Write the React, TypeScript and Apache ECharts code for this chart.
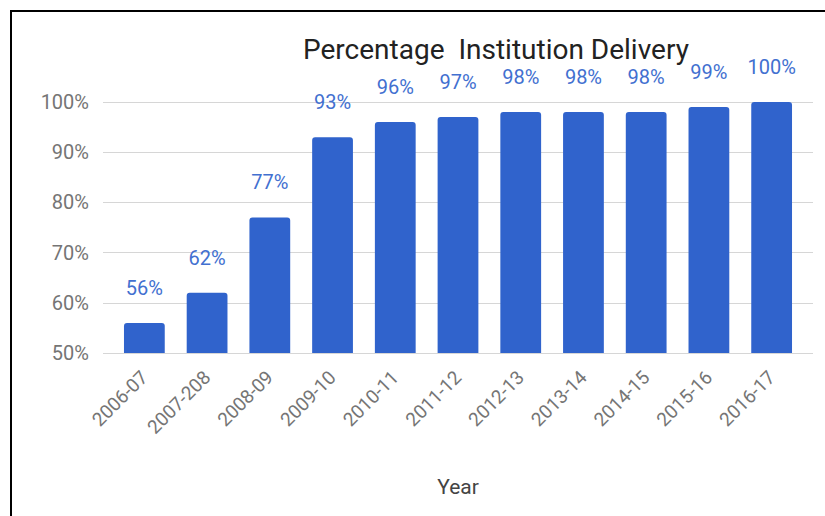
import React, { useEffect, useRef } from "react";
import * as echarts from "echarts";

const categories = ["2006-07", "2007-208", "2008-09", "2009-10", "2010-11", "2011-12", "2012-13", "2013-14", "2014-15", "2015-16", "2016-17"];
const values = [56, 62, 77, 93, 96, 97, 98, 98, 98, 99, 100];
const titleText = "Percentage  Institution Delivery";
const xName = "Year";

export default function App() {
  const ref = useRef<HTMLDivElement>(null);
  useEffect(() => {
    if (!ref.current) return;
    const chart = echarts.init(ref.current, undefined, { renderer: "svg" });
    chart.setOption({
      animation: false,
      backgroundColor: "#ffffff",
      title: {
        text: titleText,
        left: 303,
        top: 38,
        padding: 0,
        textStyle: { fontFamily: "Roboto", fontSize: 28, lineHeight: 22, fontWeight: "normal", color: "#222222" },
      },
      grid: [
        { left: 113, right: 22, top: 102, bottom: 163, containLabel: false },
        { left: 103, right: 12, top: 102, bottom: 163, containLabel: false },
      ],
      xAxis: [
        {
          type: "category",
          gridIndex: 0,
          data: categories,
          name: xName,
          nameLocation: "middle",
          nameGap: 123,
          nameTextStyle: { fontFamily: "Roboto", fontSize: 21, color: "#444444" },
          axisTick: { show: false },
          axisLine: { show: false },
          axisLabel: { rotate: 45, interval: 0, margin: 21, fontFamily: "Roboto", fontSize: 19, color: "#757575" },
        },
        { type: "value", gridIndex: 1, show: false, min: 0, max: 1 },
      ],
      yAxis: [
        {
          type: "value",
          gridIndex: 0,
          min: 50,
          max: 100,
          interval: 10,
          axisLine: { show: false },
          axisTick: { show: false },
          splitLine: { show: false },
          axisLabel: { formatter: "{value}%", margin: 24, fontFamily: "Roboto", fontSize: 20, color: "#757575" },
        },
        {
          type: "value",
          gridIndex: 1,
          min: 50,
          max: 100,
          interval: 10,
          axisLine: { show: false },
          axisTick: { show: false },
          axisLabel: { show: false },
          splitLine: { lineStyle: { color: "#d6d6d6" } },
        },
      ],
      series: [
        {
          type: "bar",
          xAxisIndex: 0,
          yAxisIndex: 0,
          data: values,
          barWidth: "65%",
          itemStyle: { color: "#3063cc", borderRadius: [3, 3, 0, 0] },
          label: {
            show: true,
            position: "top",
            distance: 27,
            formatter: "{c}%",
            fontFamily: "Roboto",
            fontSize: 20,
            lineHeight: 16,
            color: "#4270d0",
          },
          z: 3,
        },
      ],
      graphic: [
        { type: "line", shape: { x1: 10, y1: 11, x2: 825, y2: 11 }, style: { stroke: "#000000", lineWidth: 2 } },
        { type: "line", shape: { x1: 11, y1: 10, x2: 11, y2: 516 }, style: { stroke: "#000000", lineWidth: 2 } },
      ],
    });
    return () => chart.dispose();
  }, []);
  return <div ref={ref} style={{ position: "fixed", left: 0, top: 0, width: 825, height: 516 }} />;
}
